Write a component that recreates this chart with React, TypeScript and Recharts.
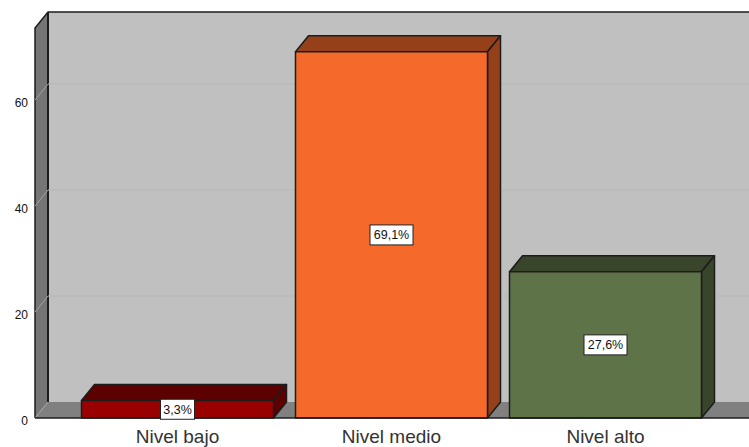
import React from 'react';
import { BarChart, Bar, XAxis, YAxis, LabelList, ReferenceArea, ReferenceLine, usePlotArea } from 'recharts';

const categories = ['Nivel bajo', 'Nivel medio', 'Nivel alto'];
const values = [3.3, 69.1, 27.6];
const yTicks = [0, 20, 40, 60];
const gridTicks = [20, 40, 60];
const faceColors = ['#990000', '#f5692b', '#5e7347'];
const sideColors = ['#5c0000', '#96401a', '#39452b'];

const data = categories.map((name, i) => ({ name, value: values[i] }));

const DX = 13;
const DY = 16;
const FONT = '"Liberation Sans", Arial, sans-serif';

const Bar3D = (props: any) => {
  const { x, y, width, height, index } = props;
  const face = faceColors[index];
  const side = sideColors[index];
  const r = x + width;
  const b = y + height;
  return (
    <g stroke="#1c1c1c" strokeWidth={1.5} strokeLinejoin="round">
      <polygon points={`${x},${y} ${x + DX},${y - DY} ${r + DX},${y - DY} ${r},${y}`} fill={side} />
      <polygon points={`${r},${y} ${r + DX},${y - DY} ${r + DX},${b - DY} ${r},${b}`} fill={side} />
      <rect x={x} y={y} width={width} height={height} fill={face} />
    </g>
  );
};

// walls span the whole plot area, not the padded band range the area gets
const Walls = (props: any) => {
  const plot = usePlotArea();
  if (!plot) return null;
  const { y, height } = props;
  const x = plot.x;
  const r = plot.x + plot.width;
  const b = y + height;
  return (
    <g>
      <rect x={x + DX} y={y - DY} width={r - x - DX} height={height} fill="#c0c0c0" />
      <polygon points={`${x},${y} ${x + DX},${y - DY} ${x + DX},${b - DY} ${x},${b}`} fill="#757575" />
      <polygon points={`${x},${b} ${x + DX},${b - DY} ${r},${b - DY} ${r},${b}`} fill="#808080" />
      <path d={`M${x},${b} V${y} L${x + DX},${y - DY} H${r}`} fill="none" stroke="#1c1c1c" strokeWidth={1.5} />
      <path d={`M${x + DX},${y - DY} V${b - DY}`} fill="none" stroke="#1c1c1c" strokeWidth={2} />
      <path d={`M${x},${b} L${x + DX},${b - DY}`} fill="none" stroke="#a4a4a4" strokeWidth={1} />
    </g>
  );
};

const GridLine = (props: any) => {
  const plot = usePlotArea();
  if (!plot) return null;
  const { y1 } = props;
  const x = plot.x;
  return (
    <g fill="none" strokeWidth={1}>
      <path d={`M${x},${y1} L${x + DX},${y1 - DY}`} stroke="#a4a4a4" />
      <path d={`M${x + DX},${y1 - DY} H${x + plot.width}`} stroke="#b6b6b6" />
    </g>
  );
};

const PercentBox = (props: any) => {
  const { x, y, width, height, value } = props;
  const text = `${String(value).replace('.', ',')}%`;
  const w = text.length === 4 ? 34 : 43;
  const h = 20;
  const cx = x + width / 2;
  const cy = y + height / 2;
  return (
    <g>
      <rect x={cx - w / 2} y={cy - h / 2} width={w} height={h} fill="#ffffff" stroke="#222222" strokeWidth={1} />
      <text x={cx} y={cy + 4.5} textAnchor="middle" fontSize={12.5} fontFamily={FONT} fill="#111111">
        {text}
      </text>
    </g>
  );
};

export default function App() {
  return (
    <div style={{ position: 'absolute', left: 0, top: 0 }}>
      <BarChart
        width={749}
        height={447}
        data={data}
        barSize={192}
        margin={{ top: 28, right: 0, bottom: 0, left: 0 }}
      >
        <XAxis
          dataKey="name"
          axisLine={{ stroke: '#1c1c1c', strokeWidth: 1.5 }}
          tickLine={false}
          padding={{ left: 35.5, right: 36.5 }}
          height={29}
          interval={0}
          tick={{ fontSize: 19, fontFamily: FONT, fill: '#333333', dy: 3 }}
          tickMargin={3}
        />
        <YAxis
          width={35}
          domain={[0, 73.6]}
          ticks={yTicks}
          axisLine={false}
          tickLine={false}
          tickMargin={1}
          tick={{ fontSize: 12, fontFamily: FONT, fill: '#111111', dy: 3 }}
        />
        <ReferenceArea y1={0} y2={73.6} ifOverflow="visible" zIndex={10} shape={(p: any) => <Walls {...p} />} />
        {gridTicks.map((t) => (
          <ReferenceLine key={t} y={t} ifOverflow="visible" zIndex={20} shape={(p: any) => <GridLine {...p} />} />
        ))}
        <Bar dataKey="value" shape={Bar3D} isAnimationActive={false}>
          <LabelList dataKey="value" content={PercentBox} />
        </Bar>
      </BarChart>
    </div>
  );
}
